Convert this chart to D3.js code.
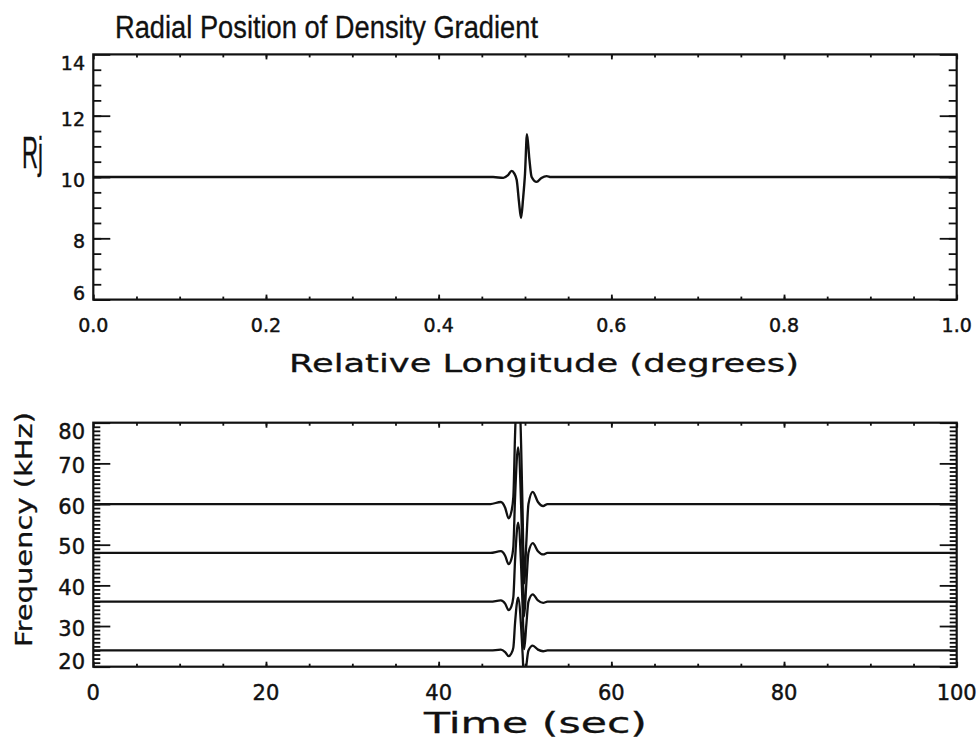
<!DOCTYPE html>
<html>
<head>
<meta charset="utf-8">
<script src="https://cdn.jsdelivr.net/npm/d3@7"></script>
<style>
  body { margin: 0; background: #fff; }
  svg { display: block; }
</style>
</head>
<body>
<svg id="chart" width="978" height="753"></svg>
<script>
// Radial position of the density gradient (Rj) versus relative longitude
const longitude = [0, 0.463, 0.4749, 0.480, 0.4846, 0.4875, 0.4904, 0.4930, 0.4954, 0.4978,
                   0.5000, 0.5023, 0.5050, 0.5077, 0.5135, 0.519, 0.5251, 0.530, 1.0];
const radiusRj  = [10, 10, 9.97, 10.05, 10.20, 10.12, 9.9, 9.2, 8.66, 9.3,
                   10.1, 11.40, 10.6, 10.0, 9.84, 9.97, 10.03, 10.0, 10];

// Emission frequency traces (kHz) versus time (s)
const timeSec = [0, 46.0, 47.2, 47.7, 48.1, 48.4, 48.65, 48.85, 49.2, 49.55,
                 49.72, 49.9, 50.15, 50.4, 50.9, 51.5, 52.1, 52.6, 100];
const freq60 = [60, 60, 60.5, 59.1, 56.5, 57.9, 61.8, 77.1, 92.4, 74.6, 58.2, 40.5, 50.4, 60, 63.0, 60.5, 59.5, 60, 60];
const freq48 = [48, 48, 48.4, 47.3, 45.2, 46.3, 49.5, 61.6, 73.9, 59.7, 46.6, 32.4, 40.3, 48, 50.4, 48.4, 47.6, 48, 48];
const freq36 = [36, 36, 36.3, 35.5, 33.9, 34.7, 37.1, 46.2, 55.4, 44.8, 34.9, 24.3, 30.2, 36, 37.8, 36.3, 35.7, 36, 36];
const freq24 = [24, 24, 24.2, 23.6, 22.6, 23.2, 24.7, 30.8, 37.0, 29.8, 23.3, 16.2, 20.2, 24, 25.2, 24.2, 23.8, 24, 24];
const freqTraces = [freq60, freq48, freq36, freq24];

// Tick values and labels
const lonTicks = [0, 0.2, 0.4, 0.6, 0.8, 1.0];
const lonTickLabels = ["0.0", "0.2", "0.4", "0.6", "0.8", "1.0"];
const rjTicks = [6, 8, 10, 12, 14];
const timeTicks = [0, 20, 40, 60, 80, 100];
const freqTicks = [20, 30, 40, 50, 60, 70, 80];

const svg = d3.select("#chart");
const ink = "#111";
const sansWide = "'DejaVu Sans', Verdana, sans-serif";
const sansNarrow = "'Liberation Sans Narrow', 'Arial Narrow', 'Liberation Sans', Arial, sans-serif";

const panelTop = { left: 93.3, right: 956.7, top: 54.4, bottom: 299.6 };
const panelBot = { left: 93.3, right: 956.7, top: 422.7, bottom: 666.7 };

const xLon = d3.scaleLinear().domain([0, 1]).range([panelTop.left, panelTop.right]);
const yRj = d3.scaleLinear().domain([6, 14]).range([panelTop.bottom, panelTop.top]);
const xTime = d3.scaleLinear().domain([0, 100]).range([panelBot.left, panelBot.right]);
const yFreq = d3.scaleLinear().domain([20, 80]).range([panelBot.bottom, panelBot.top]);

// Inward ticks on all four sides of a panel
function inwardTicks(g, p, xs, ys, xMajor, xMinor, yMajor, yMinor, xLen, yLen) {
  const add = (axisFn, scale, vals, len, tx, ty) => {
    const a = g.append("g").attr("transform", `translate(${tx},${ty})`)
      .call(axisFn(scale).tickValues(vals).tickSize(-len).tickFormat(""));
    a.select(".domain").remove();
    a.selectAll("line").attr("stroke", ink).attr("stroke-width", 1.8);
  };
  add(d3.axisBottom, xs, xMinor, xLen[1], 0, p.bottom);
  add(d3.axisBottom, xs, xMajor, xLen[0], 0, p.bottom);
  add(d3.axisTop, xs, xMinor, xLen[1], 0, p.top);
  add(d3.axisTop, xs, xMajor, xLen[0], 0, p.top);
  add(d3.axisLeft, ys, yMinor, yLen[1], p.left, 0);
  add(d3.axisLeft, ys, yMajor, yLen[0], p.left, 0);
  add(d3.axisRight, ys, yMinor, yLen[1], p.right, 0);
  add(d3.axisRight, ys, yMajor, yLen[0], p.right, 0);
}

function frame(p) {
  svg.append("rect")
    .attr("x", p.left).attr("y", p.top)
    .attr("width", p.right - p.left).attr("height", p.bottom - p.top)
    .attr("fill", "none").attr("stroke", ink).attr("stroke-width", 2.2);
}

function clip(id, p) {
  svg.append("clipPath").attr("id", id).append("rect")
    .attr("x", p.left).attr("y", p.top)
    .attr("width", p.right - p.left).attr("height", p.bottom - p.top);
}

// Slightly heavier strokes on the tick numbers
function tickText(sel, size) {
  sel.attr("font-family", sansWide).attr("font-size", size)
    .attr("fill", ink).attr("stroke", ink).attr("stroke-width", 0.45);
}

// ---------- Upper panel ----------
clip("clipTop", panelTop);
const gTop = svg.append("g");
inwardTicks(gTop, panelTop, xLon, yRj,
  lonTicks, d3.range(0.05, 1, 0.05),
  rjTicks, d3.range(6.5, 14, 0.5),
  [5, 3], [17, 8]);

const rjLine = d3.line()
  .x((d, i) => xLon(longitude[i]))
  .y(d => yRj(d))
  .curve(d3.curveMonotoneX);

gTop.append("path")
  .datum(radiusRj)
  .attr("clip-path", "url(#clipTop)")
  .attr("d", rjLine)
  .attr("fill", "none").attr("stroke", ink).attr("stroke-width", 2.4)
  .attr("stroke-linejoin", "round");
frame(panelTop);

gTop.selectAll("text.xl").data(lonTicks).join("text")
  .attr("x", d => xLon(d)).attr("y", 332)
  .attr("text-anchor", "middle")
  .call(tickText, 19)
  .text((d, i) => lonTickLabels[i]);

gTop.selectAll("text.yl").data(rjTicks).join("text")
  .attr("x", 85)
  .attr("y", d => Math.max(panelTop.top + 9, Math.min(panelTop.bottom - 7, yRj(d) + 3)) + 7)
  .attr("text-anchor", "end")
  .call(tickText, 19)
  .text(d => d);

svg.append("text")
  .attr("x", 115).attr("y", 38)
  .attr("font-family", sansNarrow).attr("font-size", 31).attr("fill", ink)
  .attr("stroke", ink).attr("stroke-width", 0.3)
  .attr("textLength", 423).attr("lengthAdjust", "spacingAndGlyphs")
  .text("Radial Position of Density Gradient");

svg.append("text")
  .attr("x", 22).attr("y", 168)
  .attr("font-family", sansNarrow).attr("font-size", 44).attr("fill", ink)
  .attr("stroke", ink).attr("stroke-width", 0.3)
  .attr("textLength", 21).attr("lengthAdjust", "spacingAndGlyphs")
  .text("Rj");

svg.append("text")
  .attr("x", 289).attr("y", 372)
  .attr("font-family", sansWide).attr("font-size", 24).attr("fill", ink)
  .attr("stroke", ink).attr("stroke-width", 0.3)
  .attr("textLength", 510).attr("lengthAdjust", "spacingAndGlyphs")
  .text("Relative Longitude (degrees)");

// ---------- Lower panel ----------
clip("clipBot", panelBot);
const gBot = svg.append("g");
inwardTicks(gBot, panelBot, xTime, yFreq,
  timeTicks, d3.range(5, 100, 5),
  freqTicks, d3.range(21, 80, 1),
  [5, 3], [17, 7]);

const freqLine = d3.line()
  .x((d, i) => xTime(timeSec[i]))
  .y(d => yFreq(d))
  .curve(d3.curveMonotoneX);

gBot.append("g").attr("clip-path", "url(#clipBot)")
  .selectAll("path").data(freqTraces).join("path")
  .attr("d", freqLine)
  .attr("fill", "none").attr("stroke", ink).attr("stroke-width", 2.3)
  .attr("stroke-linejoin", "round");
frame(panelBot);

gBot.selectAll("text.xl").data(timeTicks).join("text")
  .attr("x", d => xTime(d)).attr("y", 700)
  .attr("text-anchor", "middle")
  .call(tickText, 21)
  .text(d => d);

gBot.selectAll("text.yl").data(freqTicks).join("text")
  .attr("x", 85)
  .attr("y", d => Math.max(panelBot.top + 9, Math.min(panelBot.bottom - 5, yFreq(d) + 2)) + 7.5)
  .attr("text-anchor", "end")
  .call(tickText, 21)
  .text(d => d);

svg.append("text")
  .attr("transform", "translate(32,529.5) rotate(-90)")
  .attr("text-anchor", "middle")
  .attr("font-family", sansWide).attr("font-size", 23).attr("fill", ink)
  .attr("stroke", ink).attr("stroke-width", 0.3)
  .attr("textLength", 235).attr("lengthAdjust", "spacingAndGlyphs")
  .text("Frequency (kHz)");

svg.append("text")
  .attr("x", 424).attr("y", 733)
  .attr("font-family", sansWide).attr("font-size", 28).attr("fill", ink)
  .attr("stroke", ink).attr("stroke-width", 0.3)
  .attr("textLength", 223).attr("lengthAdjust", "spacingAndGlyphs")
  .text("Time (sec)");
</script>
</body>
</html>
